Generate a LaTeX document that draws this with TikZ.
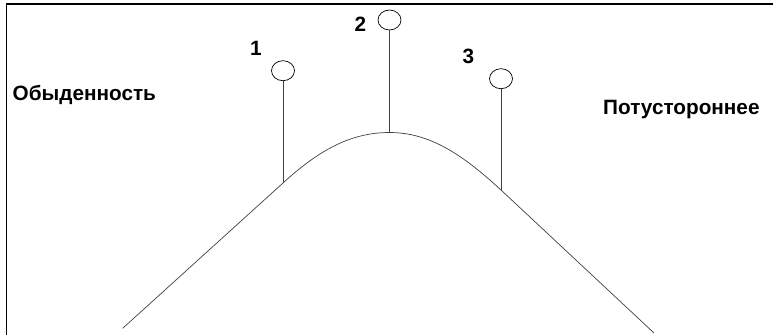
\documentclass[tikz,border=0pt]{standalone}
\usepackage{fontspec}
\setmainfont{Liberation Sans}
\usetikzlibrary{shapes.geometric}

\begin{document}
\begin{tikzpicture}[
  x=0.03cm, y=-0.03cm,
  every node/.style={inner sep=0pt, font=\bfseries\fontsize{17.7}{20}\selectfont},
  ball/.style={ellipse, draw, line width=0.6pt, minimum width=0.69cm, minimum height=0.6cm},
  pole/.style={draw=black!75, line width=0.6pt}
  ]
  \useasboundingbox (0,0) rectangle (773,335);

  % Frame
  \draw[line width=1.2pt] (6.5,335) -- (6.5,4) -- (773,4);

  % Define nodes
  \node[anchor=base west] (everyday) at (12.5,100.7) {Обыденность};
  \node[anchor=base west] (beyond) at (603,114.3) {Потустороннее};

  \node[anchor=base] (n1) at (256,55) {1};
  \node[anchor=base] (n2) at (360.5,31.7) {2};
  \node[anchor=base] (n3) at (468.5,63.3) {3};

  \node[ball] (b1) at (283,70.7) {};
  \node[ball] (b2) at (389.5,20) {};
  \node[ball] (b3) at (501,78.7) {};

  % Points on the hill
  \coordinate (left) at (122.7,328.3);
  \coordinate (j1) at (283,183);
  \coordinate (top) at (389.5,132.5);
  \coordinate (j3) at (501,190);
  \coordinate (right) at (654,333);

  % Hill
  \draw[pole] (left) -- (j1) .. controls (318,151) and (350,132.5) .. (top)
    .. controls (430,132.5) and (463,155) .. (j3) -- (right);

  % Poles
  \draw[pole] (b1) -- (j1);
  \draw[pole] (b2) -- (top);
  \draw[pole] (b3) -- (j3);

\end{tikzpicture}
\end{document}
